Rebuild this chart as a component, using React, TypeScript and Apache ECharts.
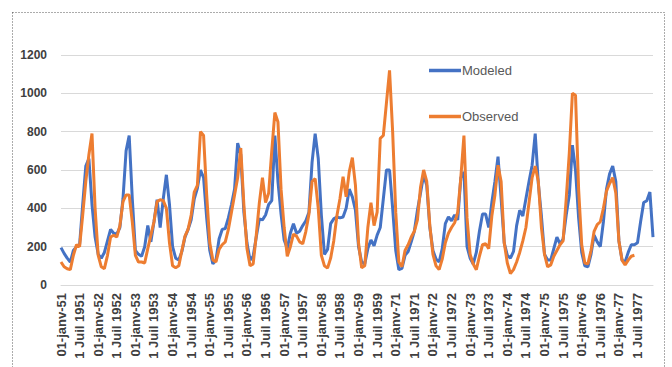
import React, { useEffect, useRef } from "react";
import * as echarts from "echarts";

// Years shown on the category axis (monthly data, two periods)
const yearsPeriod1 = [1951, 1952, 1953, 1954, 1955, 1956, 1957, 1958, 1959];
const yearsPeriod2 = [1971, 1972, 1973, 1974, 1975, 1976, 1977];
const monthAbbr = ["janv", "févr", "mars", "avr", "mai", "juin", "juil", "août", "sept", "oct", "nov", "déc"];

// Modeled flows, Jan 1951 – Dec 1959
const modeled1951_1959 = [
  195, 165, 140, 120, 180, 200, 210, 420, 620, 660, 420, 250,
  160, 140, 170, 230, 290, 270, 265, 300, 450, 700, 780, 450,
  180, 160, 150, 200, 310, 225, 330, 445, 300, 450, 575, 420,
  200, 140, 130, 175, 250, 290, 340, 450, 505, 600, 560, 350,
  180, 110, 130, 240, 290, 295, 350, 420, 500, 740, 680, 380,
  220, 130, 150, 250, 345, 340, 365, 420, 440, 780, 540, 370,
  235, 190, 270, 320, 270, 280, 310, 335, 380, 640, 790, 660,
  365, 160, 185, 320, 345, 355, 350, 355, 400, 500, 460, 390,
  200, 120, 110, 190, 235, 205, 260, 300, 450, 600, 600, 400,
];
// Modeled flows, Jan 1971 – Dec 1977
const modeled1971_1977 = [
  180, 80, 87, 155, 175, 225, 280, 390, 480, 575, 520, 300,
  180, 135, 120, 190, 320, 355, 335, 365, 340, 560, 590, 200,
  140, 110, 170, 280, 370, 370, 300, 430, 540, 670, 450, 220,
  155, 140, 175, 310, 390, 360, 450, 540, 625, 790, 530, 360,
  160, 130, 130, 190, 250, 215, 240, 365, 470, 730, 600, 350,
  170, 100, 95, 160, 260, 225, 200, 330, 500, 580, 620, 540,
  230, 130, 120, 170, 210, 210, 220, 330, 430, 440, 485, 250,
];
// Observed flows, Jan 1951 – Dec 1959
const observed1951_1959 = [
  120, 95, 85, 80, 155, 210, 200, 365, 540, 680, 790, 400,
  155, 95, 85, 155, 250, 260, 250, 310, 435, 470, 470, 330,
  155, 120, 120, 115, 190, 260, 330, 435, 445, 440, 400, 220,
  100, 90, 100, 180, 255, 290, 365, 485, 520, 800, 780, 470,
  220, 130, 120, 185, 210, 225, 290, 380, 470, 560, 715, 420,
  190, 100, 110, 260, 430, 560, 430, 480, 700, 900, 850, 500,
  300, 150, 200, 265, 255, 225, 215, 280, 370, 540, 555, 400,
  155, 100, 88, 140, 230, 360, 450, 565, 460, 590, 665, 520,
  220, 90, 100, 300, 430, 310, 380, 765, 780, 950, 1120, 800,
];
// Observed flows, Jan 1971 – Jun 1977 (no later record)
const observed1971_1977 = [
  380, 120, 95, 180, 210, 250, 280, 340, 510, 600, 540, 310,
  160, 100, 80, 135, 220, 270, 300, 325, 380, 560, 780, 350,
  160, 110, 80, 150, 210, 215, 190, 360, 470, 625, 540, 220,
  115, 60, 80, 120, 170, 230, 300, 430, 560, 620, 540, 300,
  160, 95, 105, 150, 180, 210, 230, 450, 690, 1000, 990, 500,
  210, 115, 110, 180, 280, 315, 330, 400, 490, 530, 560, 480,
  230, 130, 105, 130, 150, 155, null, null, null, null, null, null,
];

const yTicks = { min: 0, max: 1200, interval: 200 };

function buildCategories(years: number[]): string[] {
  const out: string[] = [];
  years.forEach((y) => {
    const yy = String(y).slice(2);
    monthAbbr.forEach((m, i) => {
      if (i === 0) out.push(`01-janv-${yy}`);
      else if (i === 6) out.push(`1 Juil ${y}`);
      else out.push(`01-${m}-${yy}`);
    });
  });
  return out;
}

export default function App() {
  const ref = useRef<HTMLDivElement>(null);
  useEffect(() => {
    if (!ref.current) return;
    const chart = echarts.init(ref.current, undefined, { renderer: "svg" });
    const categories = [...buildCategories(yearsPeriod1), ...buildCategories(yearsPeriod2)];
    const modeled = [...modeled1951_1959, ...modeled1971_1977];
    const observed = [...observed1951_1959, ...observed1971_1977];
    const font = "'Liberation Sans', Arial, sans-serif";
    const legendBase = {
      left: 424,
      icon: "rect",
      itemWidth: 32,
      itemHeight: 3.5,
      itemGap: 0,
      textStyle: { fontFamily: font, fontSize: 13, color: "#595959", padding: [0, 0, 0, -4] },
    };
    chart.setOption({
      animation: false,
      backgroundColor: "#ffffff",
      grid: { left: 61, right: 19, top: 55, bottom: 82, containLabel: false },
      legend: [
        { ...legendBase, data: ["Modeled"], top: 59 },
        { ...legendBase, data: ["Observed"], top: 105 },
      ],
      graphic: [
        {
          type: "rect",
          shape: { x: 12.5, y: 12.5, width: 652, height: 400 },
          style: { fill: "none", stroke: "#595959", lineWidth: 1, lineDash: [1, 2] },
          silent: true,
        },
      ],
      xAxis: {
        type: "category",
        data: categories,
        boundaryGap: false,
        axisLine: { show: true, lineStyle: { color: "#d9d9d9", width: 1 } },
        axisTick: { show: false },
        axisLabel: {
          interval: 5,
          rotate: 90,
          margin: 8,
          fontFamily: font,
          fontSize: 13,
          fontWeight: "bold",
          color: "#404040",
        },
        splitLine: { show: false },
      },
      yAxis: {
        type: "value",
        min: yTicks.min,
        max: yTicks.max,
        interval: yTicks.interval,
        axisLine: { show: false },
        axisTick: { show: false },
        axisLabel: {
          margin: 14,
          fontFamily: font,
          fontSize: 12,
          fontWeight: "bold",
          color: "#404040",
          formatter: (v: number) => String(v),
        },
        splitLine: { lineStyle: { color: "#d9d9d9", width: 1 } },
      },
      series: [
        {
          name: "Modeled",
          type: "line",
          data: modeled,
          showSymbol: false,
          symbol: "none",
          lineStyle: { color: "#4472C4", width: 3 },
          itemStyle: { color: "#4472C4" },
        },
        {
          name: "Observed",
          type: "line",
          data: observed,
          showSymbol: false,
          symbol: "none",
          connectNulls: false,
          lineStyle: { color: "#ED7D31", width: 3 },
          itemStyle: { color: "#ED7D31" },
        },
      ],
    });
    return () => chart.dispose();
  }, []);
  return (
    <div
      ref={ref}
      style={{ position: "fixed", left: 0, top: 0, width: 672, height: 367, background: "#fff" }}
    />
  );
}
